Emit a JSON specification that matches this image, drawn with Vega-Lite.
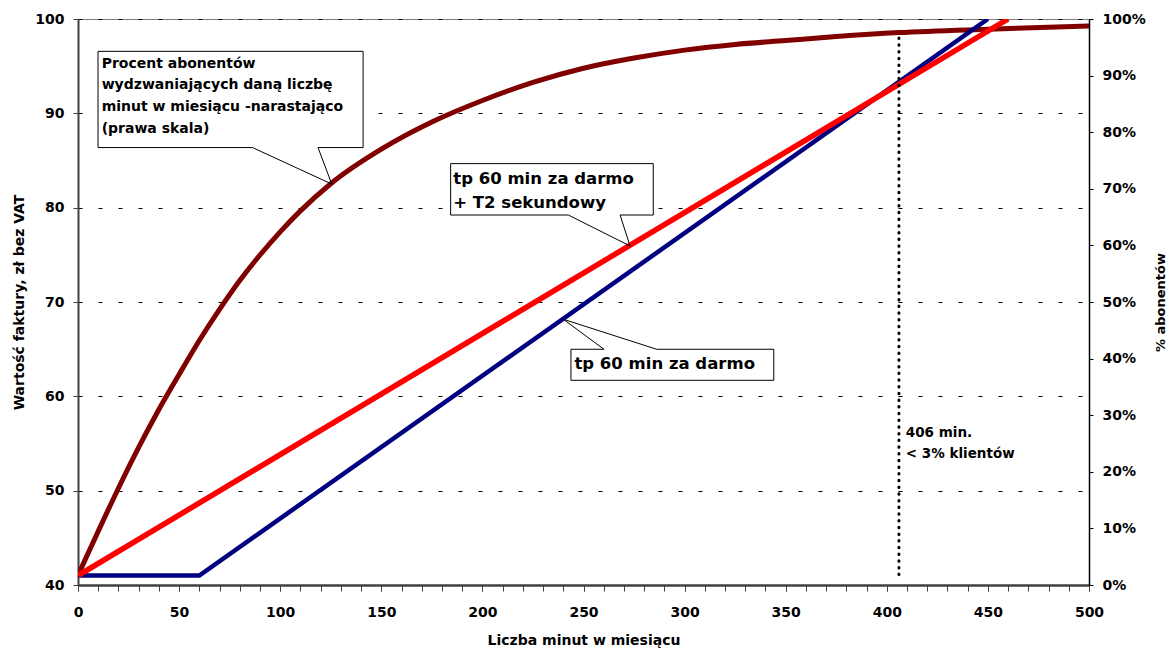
{
  "$schema": "https://vega.github.io/schema/vega-lite/v6.json",
  "width": 1011,
  "height": 566,
  "autosize": {"type": "none"},
  "padding": {"left": 78, "top": 19, "right": 87, "bottom": 64},
  "config": {
    "font": "DejaVu Sans",
    "view": {"stroke": "#808080", "strokeWidth": 1},
    "axis": {
      "labelFont": "DejaVu Sans",
      "labelFontWeight": "bold",
      "labelFontSize": 14,
      "labelColor": "#000000",
      "titleFont": "DejaVu Sans",
      "titleFontWeight": "bold",
      "titleFontSize": 14,
      "titleColor": "#000000"
    },
    "text": {"font": "DejaVu Sans", "fontWeight": "bold", "color": "#000000"}
  },
  "datasets": {
    "tariffs": [
      {"min": 0, "zl": 41, "plan": "tp 60 min za darmo"},
      {"min": 60, "zl": 41, "plan": "tp 60 min za darmo"},
      {"min": 450, "zl": 100, "plan": "tp 60 min za darmo"},
      {"min": 0, "zl": 41, "plan": "tp 60 min za darmo + T2 sekundowy"},
      {"min": 460, "zl": 100, "plan": "tp 60 min za darmo + T2 sekundowy"}
    ],
    "cumulative": [
      {"min": 0, "pct": 1.7},
      {"min": 10, "pct": 9.5},
      {"min": 20, "pct": 17.1},
      {"min": 30, "pct": 24.3},
      {"min": 40, "pct": 31.0},
      {"min": 50, "pct": 37.2},
      {"min": 60, "pct": 43.2},
      {"min": 70, "pct": 48.7},
      {"min": 80, "pct": 53.8},
      {"min": 90, "pct": 58.3},
      {"min": 100, "pct": 62.4},
      {"min": 110, "pct": 66.1},
      {"min": 125, "pct": 70.9},
      {"min": 150, "pct": 77.0},
      {"min": 175, "pct": 81.8},
      {"min": 200, "pct": 85.6},
      {"min": 225, "pct": 88.8},
      {"min": 250, "pct": 91.3},
      {"min": 275, "pct": 93.1},
      {"min": 300, "pct": 94.5},
      {"min": 325, "pct": 95.5},
      {"min": 350, "pct": 96.2},
      {"min": 375, "pct": 96.9},
      {"min": 406, "pct": 97.6},
      {"min": 450, "pct": 98.2},
      {"min": 500, "pct": 98.75}
    ],
    "callouts": [
      {"min": 9.9, "min2": 141.0, "zl": 96.57, "zl2": 86.37},
      {"min": 184.3, "min2": 284.5, "zl": 84.67, "zl2": 79.22},
      {"min": 243.8, "min2": 344.1, "zl": 64.99, "zl2": 61.7}
    ],
    "gaps": [
      {"min": 86.3, "min2": 118.7, "zl": 86.37},
      {"min": 242.5, "min2": 268.1, "zl": 79.22},
      {"min": 260.1, "min2": 286.2, "zl": 64.99}
    ],
    "pointers": [
      {"min": 86.3, "zl": 86.37, "min2": 125.5, "zl2": 82.5},
      {"min": 118.7, "zl": 86.37, "min2": 125.5, "zl2": 82.5},
      {"min": 242.5, "zl": 79.22, "min2": 273.0, "zl2": 75.94},
      {"min": 268.1, "zl": 79.22, "min2": 273.0, "zl2": 75.94},
      {"min": 260.1, "zl": 64.99, "min2": 240.0, "zl2": 68.17},
      {"min": 286.2, "zl": 64.99, "min2": 240.0, "zl2": 68.17}
    ]
  },
  "layer": [
    {
      "data": {"name": "cumulative"},
      "mark": {"type": "line", "color": "#800000", "strokeWidth": 5, "interpolate": "monotone", "clip": true},
      "encoding": {
        "x": {
          "field": "min",
          "type": "quantitative",
          "scale": {"domain": [0, 500], "nice": false, "zero": false},
          "axis": {
            "orient": "bottom",
            "title": null,
            "values": [0, 10, 20, 30, 40, 50, 60, 70, 80, 90, 100, 110, 120, 130, 140, 150, 160, 170, 180, 190, 200, 210, 220, 230, 240, 250, 260, 270, 280, 290, 300, 310, 320, 330, 340, 350, 360, 370, 380, 390, 400, 410, 420, 430, 440, 450, 460, 470, 480, 490, 500],
            "labels": false,
            "grid": false,
            "domainColor": "#404040",
            "domainWidth": 2,
            "tickColor": "#404040",
            "tickSize": 6
          }
        },
        "y": {
          "field": "pct",
          "type": "quantitative",
          "scale": {"domain": [0, 100], "nice": false, "zero": false},
          "axis": {
            "orient": "right",
            "title": "% abonentów",
            "titleFontSize": 13,
            "titleAngle": 270,
            "titlePadding": 22,
            "values": [0, 10, 20, 30, 40, 50, 60, 70, 80, 90, 100],
            "labelExpr": "datum.value + '%'",
            "grid": false,
            "domainColor": "#000000",
            "domainWidth": 1.5,
            "tickColor": "#000000",
            "tickSize": 4,
            "labelPadding": 9,
            "labelFlush": false,
            "labelOverlap": false
          }
        }
      }
    },
    {
      "layer": [
        {
          "data": {"name": "tariffs"},
          "transform": [{"filter": "datum.plan === 'tp 60 min za darmo'"}],
          "mark": {"type": "line", "color": "#000080", "strokeWidth": 4.5, "clip": true},
          "encoding": {
            "x": {
              "field": "min",
              "type": "quantitative",
              "axis": {
                "orient": "bottom",
                "title": "Liczba minut w miesiącu",
                "values": [0, 50, 100, 150, 200, 250, 300, 350, 400, 450, 500],
                "format": "d",
                "grid": false,
                "domainColor": "#404040",
                "domainWidth": 2,
                "tickColor": "#404040",
                "tickSize": 6,
                "labelPadding": 14,
                "labelFlush": false,
                "labelOverlap": false,
                "titlePadding": 14
              }
            },
            "y": {
              "field": "zl",
              "type": "quantitative",
              "scale": {"domain": [40, 100], "nice": false, "zero": false},
              "axis": {
                "orient": "left",
                "title": "Wartość faktury, zł bez VAT",
                "values": [40, 50, 60, 70, 80, 90, 100],
                "grid": true,
                "gridColor": "#000000",
                "gridDash": [4, 16],
                "gridWidth": 1,
                "domainColor": "#404040",
                "domainWidth": 2,
                "tickColor": "#404040",
                "tickSize": 5,
                "labelPadding": 9,
                "labelFlush": false,
                "labelOverlap": false,
                "titlePadding": 8
              }
            }
          }
        },
        {
          "data": {"name": "tariffs"},
          "transform": [{"filter": "datum.plan === 'tp 60 min za darmo + T2 sekundowy'"}],
          "mark": {"type": "line", "color": "#FF0000", "strokeWidth": 5.5, "clip": true},
          "encoding": {
            "x": {"field": "min", "type": "quantitative"},
            "y": {"field": "zl", "type": "quantitative"}
          }
        },
        {
          "data": {"values": [{"min": 406, "zl": 41.1, "zl2": 98.6}]},
          "mark": {"type": "rule", "color": "#000000", "strokeWidth": 3, "strokeDash": [0.5, 6.2], "strokeCap": "round"},
          "encoding": {
            "x": {"field": "min", "type": "quantitative"},
            "y": {"field": "zl", "type": "quantitative"},
            "y2": {"field": "zl2"}
          }
        },
        {
          "data": {"name": "callouts"},
          "mark": {"type": "rect", "fill": "#FFFFFF", "stroke": "#000000", "strokeWidth": 1},
          "encoding": {
            "x": {"field": "min", "type": "quantitative"},
            "x2": {"field": "min2"},
            "y": {"field": "zl", "type": "quantitative"},
            "y2": {"field": "zl2"}
          }
        },
        {
          "data": {"name": "gaps"},
          "mark": {"type": "rule", "color": "#FFFFFF", "strokeWidth": 2.5},
          "encoding": {
            "x": {"field": "min", "type": "quantitative"},
            "x2": {"field": "min2"},
            "y": {"field": "zl", "type": "quantitative"}
          }
        },
        {
          "data": {"name": "pointers"},
          "mark": {"type": "rule", "color": "#000000", "strokeWidth": 1},
          "encoding": {
            "x": {"field": "min", "type": "quantitative"},
            "x2": {"field": "min2"},
            "y": {"field": "zl", "type": "quantitative"},
            "y2": {"field": "zl2"}
          }
        },
        {
          "data": {"values": [
            {"min": 11.7, "zl": 94.85, "text": "Procent abonentów"},
            {"min": 11.7, "zl": 92.55, "text": "wydzwaniających daną liczbę"},
            {"min": 11.7, "zl": 90.25, "text": "minut w miesiącu -narastająco"},
            {"min": 11.7, "zl": 87.96, "text": "(prawa skala)"}
          ]},
          "mark": {"type": "text", "align": "left", "baseline": "alphabetic", "fontSize": 14, "fontWeight": "bold"},
          "encoding": {
            "x": {"field": "min", "type": "quantitative"},
            "y": {"field": "zl", "type": "quantitative"},
            "text": {"field": "text"}
          }
        },
        {
          "data": {"values": [
            {"min": 185.6, "zl": 82.48, "text": "tp 60 min za darmo"},
            {"min": 185.6, "zl": 79.93, "text": "+ T2 sekundowy"},
            {"min": 245.5, "zl": 62.87, "text": "tp 60 min za darmo"}
          ]},
          "mark": {"type": "text", "align": "left", "baseline": "alphabetic", "fontSize": 16.5, "fontWeight": "bold"},
          "encoding": {
            "x": {"field": "min", "type": "quantitative"},
            "y": {"field": "zl", "type": "quantitative"},
            "text": {"field": "text"}
          }
        },
        {
          "data": {"values": [
            {"min": 409.4, "zl": 55.73, "text": "406 min."},
            {"min": 409.4, "zl": 53.5, "text": "< 3% klientów"}
          ]},
          "mark": {"type": "text", "align": "left", "baseline": "alphabetic", "fontSize": 13.5, "fontWeight": "bold"},
          "encoding": {
            "x": {"field": "min", "type": "quantitative"},
            "y": {"field": "zl", "type": "quantitative"},
            "text": {"field": "text"}
          }
        }
      ]
    }
  ],
  "resolve": {"scale": {"y": "independent"}, "axis": {"y": "independent", "x": "independent"}}
}
